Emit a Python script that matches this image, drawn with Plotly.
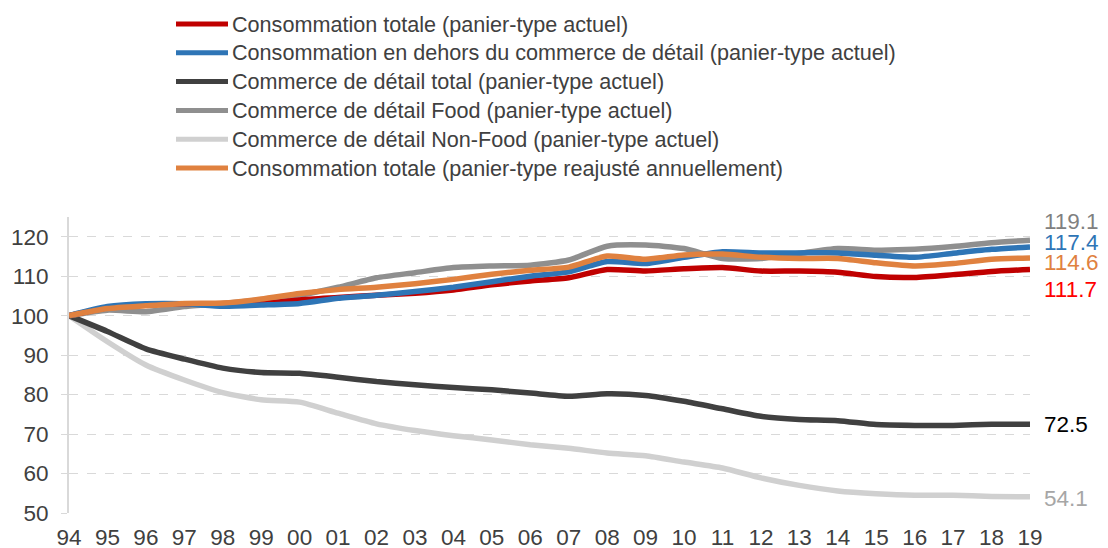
import plotly.graph_objects as go

years = ["94", "95", "96", "97", "98", "99", "00", "01", "02", "03", "04", "05", "06",
         "07", "08", "09", "10", "11", "12", "13", "14", "15", "16", "17", "18", "19"]

conso_totale = [100, 102.0, 102.8, 103.0, 102.8, 103.0, 104.0, 104.6, 105.2, 105.7, 106.5, 107.8, 108.8,
                109.6, 111.7, 111.3, 111.9, 112.2, 111.3, 111.3, 111.0, 109.9, 109.7, 110.4, 111.2, 111.7]
conso_hors_detail = [100, 102.3, 103.0, 103.0, 102.4, 102.7, 103.1, 104.4, 105.2, 106.1, 107.2, 108.6, 110.0,
                     111.1, 113.7, 113.2, 114.8, 116.2, 115.9, 115.9, 115.9, 115.3, 114.8, 115.8, 116.8, 117.4]
detail_total = [100, 96.0, 91.6, 89.0, 86.7, 85.6, 85.4, 84.4, 83.3, 82.5, 81.8, 81.2, 80.4,
                79.6, 80.2, 79.8, 78.3, 76.4, 74.5, 73.7, 73.4, 72.4, 72.2, 72.2, 72.5, 72.5]
detail_food = [100, 101.4, 101.0, 102.3, 103.1, 104.0, 105.2, 107.2, 109.6, 110.9, 112.2, 112.6, 112.8,
               114.1, 117.6, 117.9, 117.0, 114.5, 114.5, 115.8, 117.0, 116.6, 116.8, 117.5, 118.5, 119.1]
detail_nonfood = [100, 93.4, 87.5, 83.7, 80.5, 78.7, 78.1, 75.3, 72.6, 70.9, 69.6, 68.5, 67.3,
                  66.4, 65.2, 64.5, 62.9, 61.4, 58.9, 57.0, 55.6, 54.9, 54.5, 54.5, 54.2, 54.1]
conso_reajuste = [100, 101.8, 102.5, 103.1, 103.2, 104.2, 105.6, 106.6, 107.2, 108.1, 109.2, 110.5, 111.5,
                  112.3, 115.1, 114.3, 115.4, 115.6, 114.8, 114.5, 114.5, 113.4, 112.6, 113.2, 114.3, 114.6]

names = [
    "Consommation totale (panier-type actuel)",
    "Consommation en dehors du commerce de détail (panier-type actuel)",
    "Commerce de détail total (panier-type actuel)",
    "Commerce de détail Food (panier-type actuel)",
    "Commerce de détail Non-Food (panier-type actuel)",
    "Consommation totale (panier-type reajusté annuellement)",
]
series = [conso_totale, conso_hors_detail, detail_total, detail_food, detail_nonfood, conso_reajuste]
line_colors = ["#C00000", "#2E75B6", "#404040", "#8F8F8F", "#D0D0D0", "#E0813F"]
label_colors = ["#FF0000", "#2E75B6", "#000000", "#808080", "#A6A6A6", "#E0813F"]
label_yshift = [-20, 4, 0, 19, -2, -4]

# draw order (back to front)
draw_order = [4, 2, 3, 0, 1, 5]

FONT = "Liberation Sans, Arial, sans-serif"

# page body adds an 8px offset; work in page pixels and subtract it
OFF = 8
W, H = 1108 - OFF, 548 - OFF
L = 69 - OFF
T = 217 - OFF
pw = 1030 - 69
ph = 513 - 217
R = W - L - pw
B = H - T - ph

fig = go.Figure()
for i in draw_order:
    fig.add_trace(go.Scatter(
        x=years, y=series[i], mode="lines", name=names[i],
        line=dict(color=line_colors[i], width=5.5, shape="spline", smoothing=0.6),
        showlegend=False, hoverinfo="skip",
    ))

annotations = []
shapes = []
# end-of-line value labels
last_idx = len(years) - 1
for i, s in enumerate(series):
    annotations.append(dict(
        x=last_idx, y=s[-1], xref="x", yref="y",
        text=f"{s[-1]:.1f}", showarrow=False, xanchor="left", yanchor="middle",
        xshift=12, yshift=label_yshift[i],
        font=dict(family=FONT, size=22.5, color=label_colors[i]),
    ))

# manual legend (page pixel positions converted to paper coords)
def px_x(p):
    return (p - OFF - L) / pw

def px_y(p):
    return 1 - (p - OFF - T) / ph

leg_top = 24
leg_step = 28.8
for k in range(6):
    yc = leg_top + k * leg_step
    shapes.append(dict(
        type="line", xref="paper", yref="paper",
        x0=px_x(176), x1=px_x(228), y0=px_y(yc), y1=px_y(yc),
        line=dict(color=line_colors[k], width=5),
    ))
    annotations.append(dict(
        x=px_x(230), y=px_y(yc), xref="paper", yref="paper",
        text=names[k], showarrow=False, xanchor="left", yanchor="middle",
        font=dict(family=FONT, size=21.6, color="#404040"),
    ))

fig.update_layout(
    width=W, height=H,
    margin=dict(l=L, r=R, t=T, b=B, pad=0, autoexpand=False),
    paper_bgcolor="white", plot_bgcolor="white",
    showlegend=False,
    annotations=annotations, shapes=shapes,
    font=dict(family=FONT, size=22.5, color="#404040"),
)
fig.update_xaxes(
    type="category", range=[0, len(years) - 1], automargin=False,
    showgrid=False, showline=False, zeroline=False,
    ticks="", tickfont=dict(family=FONT, size=22.5, color="#404040"),
    ticklabelstandoff=8,
)
fig.update_yaxes(
    range=[50, 125], tickvals=[50, 60, 70, 80, 90, 100, 110, 120], automargin=False,
    showgrid=True, gridcolor="#D9D9D9", griddash="dash", gridwidth=1,
    showline=True, linecolor="#D9D9D9", linewidth=2,
    ticks="outside", ticklen=6, tickcolor="#D9D9D9", tickwidth=1,
    zeroline=False,
    tickfont=dict(family=FONT, size=22.5, color="#404040"),
    ticklabelstandoff=8,
)

fig.write_html("out.html")
